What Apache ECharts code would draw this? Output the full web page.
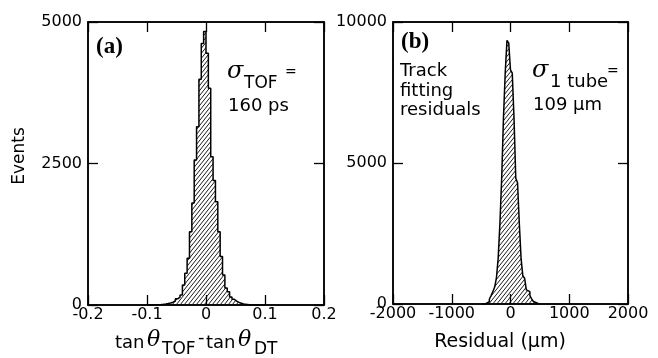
<!DOCTYPE html>
<html>
<head>
<meta charset="utf-8">
<script src="https://cdn.jsdelivr.net/npm/echarts@6/dist/echarts.min.js"></script>
<style>
html,body{margin:0;padding:0;background:#fff;}
#myChart{width:658px;height:358px;}
</style>
</head>
<body>
<div id="myChart"></div>
<script>
//数据 (a) tan θ_TOF - tan θ_DT
var tofBinStart = -0.1;
var tofBinWidth = 0.004;
var tofCounts = [0,0,2,3,5,8,12,18,25,35,
    50,70,110,140,177,353,560,825,1295,1800,
    2560,3150,3990,4620,4830,4450,3830,2620,2200,1825,
    1295,855,530,300,235,140,100,70,45,30,
    20,12,8,5,3,0,0,0,0,0];
var tofTicks = {min:-0.2, max:0.2, interval:0.1};
var tofEvents = {min:0, max:5000, interval:2500};

//数据 (b) residual (um)
var resBinStart = -480;
var resBinWidth = 30;
var resCounts = [0,10,30,80,170,300,437,600,915,1620,
    2865,4460,6590,8190,9350,9250,8300,8190,6590,4460,
    4300,2865,1620,1000,915,500,437,300,180,90,
    35,10];
var resTicks = {min:-2000, max:2000, interval:1000};
var resEvents = {min:0, max:10000, interval:5000};

function stepData(start, width, counts){
    var pts = [[start, 0]];
    counts.forEach(function(c, i){
        pts.push([start + i*width, c]);
    });
    pts.push([start + counts.length*width, 0]);
    return pts;
}

//斜线填充
var hatch = document.createElement('canvas');
hatch.width = 4; hatch.height = 5;
var hc = hatch.getContext('2d');
hc.strokeStyle = '#000';
hc.lineWidth = 0.9;
[-4,0,4].forEach(function(o){
    hc.beginPath();
    hc.moveTo(o, 5);
    hc.lineTo(o+4, 0);
    hc.stroke();
});

var myChart = echarts.init(document.getElementById('myChart'));
var black = '#000';

function $label(show, margin){
    return {show:show, margin:margin, color:black, fontFamily:'DejaVu Sans', fontSize:16,
        formatter:function(v){ return String(Math.round(v*1000)/1000); }};
}
function xAx(grid, t, pos){
    return {
        type:'value', gridIndex:grid, position:pos,
        min:t.min, max:t.max, interval:t.interval, z:5,
        axisLine:{show:true, onZero:false, lineStyle:{color:black, width:1.5}},
        axisTick:{show:true, inside:true, length:10, lineStyle:{color:black, width:1.3}},
        axisLabel:$label(pos=='bottom', 2),
        splitLine:{show:false}
    };
}
function yAx(grid, t, pos){
    return {
        type:'value', gridIndex:grid, position:pos,
        min:t.min, max:t.max, interval:t.interval, z:5,
        axisLine:{show:true, onZero:false, lineStyle:{color:black, width:1.5}},
        axisTick:{show:true, inside:true, length:10, lineStyle:{color:black, width:1.3}},
        axisLabel:$label(pos=='left', 6),
        splitLine:{show:false}
    };
}
function txt(x, y, text, font, align, rot){
    var el = {type:'text', x:x, y:y, z:10,
        style:{text:text, font:font, fill:black, textAlign:align || 'left', textVerticalAlign:'middle'}};
    if (rot) el.rotation = rot;
    return el;
}

var sans = '"DejaVu Sans"';
var option = {
    backgroundColor:'#fff',
    animation:false,
    grid:[
        {left:88, top:22, width:236, height:283, show:true, borderColor:black, borderWidth:1.5},
        {left:393, top:22, width:235, height:282, show:true, borderColor:black, borderWidth:1.5}
    ],
    xAxis:[
        xAx(0, tofTicks, 'bottom'), xAx(0, tofTicks, 'top'),
        xAx(1, resTicks, 'bottom'), xAx(1, resTicks, 'top')
    ],
    yAxis:[
        yAx(0, tofEvents, 'left'), yAx(0, tofEvents, 'right'),
        yAx(1, resEvents, 'left'), yAx(1, resEvents, 'right')
    ],
    series:[
        {
            type:'line', xAxisIndex:0, yAxisIndex:0, step:'end', symbol:'none',
            data:stepData(tofBinStart, tofBinWidth, tofCounts),
            lineStyle:{color:black, width:1.5},
            areaStyle:{color:{image:hatch, repeat:'repeat'}, opacity:1}
        },
        {
            type:'line', xAxisIndex:2, yAxisIndex:2, step:'end', symbol:'none',
            data:stepData(resBinStart, resBinWidth, resCounts),
            lineStyle:{color:black, width:1.5},
            areaStyle:{color:{image:hatch, repeat:'repeat'}, opacity:1}
        }
    ],
    graphic:[
        txt(20, 156, 'Events', '17px '+sans, 'center', Math.PI/2),
        // panel (a)
        txt(96, 47, '(a)', 'bold 23px "Liberation Serif"'),
        txt(227, 72, 'σ', 'italic 24px "DejaVu Serif"'),
        txt(244, 84, 'TOF', '17px '+sans),
        txt(285, 72, '=', '14px '+sans),
        txt(228, 106, '160 ps', '18px '+sans),
        txt(115, 343, 'tan', '18px '+sans),
        txt(147, 340, 'θ', 'italic 22px "DejaVu Serif"'),
        txt(162, 350, 'TOF', '17px '+sans),
        txt(198, 338, '-', '18px '+sans),
        txt(206, 343, 'tan', '18px '+sans),
        txt(238, 340, 'θ', 'italic 22px "DejaVu Serif"'),
        txt(254, 350, 'DT', '17px '+sans),
        // panel (b)
        txt(401, 42, '(b)', 'bold 23px "Liberation Serif"'),
        txt(400, 71, 'Track', '18px '+sans),
        txt(400, 91, 'fitting', '18px '+sans),
        txt(400, 110, 'residuals', '18px '+sans),
        txt(532, 71, 'σ', 'italic 24px "DejaVu Serif"'),
        txt(550, 82, '1 tube', '18px '+sans),
        txt(607, 71, '=', '14px '+sans),
        txt(533, 105, '109 µm', '18px '+sans),
        txt(500, 342, 'Residual (µm)', '19px '+sans, 'center')
    ]
};
myChart.setOption(option);
</script>
</body>
</html>
